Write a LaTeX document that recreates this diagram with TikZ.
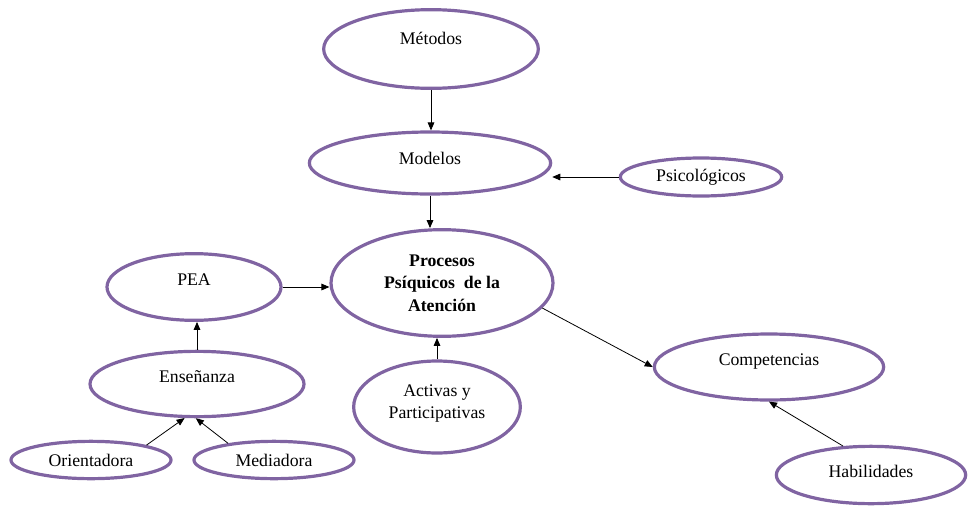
\documentclass[tikz,border=0pt]{standalone}
\usepackage{fontspec}
\setmainfont{Liberation Serif}
\usepackage{tikz}
\usetikzlibrary{shapes.geometric, arrows.meta, calc}
\definecolor{moradoborde}{RGB}{128, 100, 162}

\begin{document}
\begin{tikzpicture}[
    x=0.75pt, y=-0.75pt,
    oval/.style={ellipse, draw=moradoborde, line width=2.4pt, inner sep=0pt,
                 align=center, font=\fontsize{13.3}{16.5}\selectfont},
    lift/.style={text depth=#1},
    arrow/.style={-{Triangle[length=6pt, width=5pt]}, line width=0.6pt, black}
]
\useasboundingbox (0,0) rectangle (975,507);

\node[oval, minimum width=161pt, minimum height=59pt, lift=16.5pt] (metodos) at (431,49) {Métodos};
\node[oval, minimum width=181pt, minimum height=46.5pt, lift=7.5pt] (modelos) at (430,163) {Modelos};
\node[oval, minimum width=121pt, minimum height=28.5pt] (psico) at (701,177) {Psicológicos};
\node[oval, minimum width=166.5pt, minimum height=80pt, font=\fontsize{13.3}{17}\selectfont\bfseries] (procesos) at (442,283) {Procesos\\Psíquicos\ \ de la\\Atención};
\node[oval, minimum width=130.5pt, minimum height=50pt, lift=10.5pt] (pea) at (194,287) {PEA};
\node[oval, minimum width=160.5pt, minimum height=49pt, lift=10.5pt] (ensenanza) at (197,384) {Enseñanza};
\node[oval, minimum width=120pt, minimum height=28pt] (orient) at (91,460) {Orientadora};
\node[oval, minimum width=120pt, minimum height=28pt] (mediad) at (274,460) {Mediadora};
\node[oval, minimum width=125pt, minimum height=69pt, lift=8pt] (activas) at (437,407) {Activas y\\Participativas};
\node[oval, minimum width=172pt, minimum height=49.5pt, lift=10.5pt] (compet) at (769,367) {Competencias};
\node[oval, minimum width=142pt, minimum height=43pt, lift=6pt] (habil) at (871,475) {Habilidades};

\draw[arrow] (metodos.south) -- (metodos.south |- modelos.north);
\draw[arrow] (modelos.south) -- (modelos.south |- procesos.north);
\draw[arrow] (psico.west) -- (psico.west -| modelos.east);
\draw[arrow] (pea.east) -- (pea.east -| procesos.west);
\draw[arrow] (activas.north) -- (activas.north |- procesos.south);
\draw[arrow] (procesos.-14) -- (compet.west);
\draw[arrow] (habil.134) -- (compet.south);
\draw[arrow] (ensenanza.north) -- (ensenanza.north |- pea.south);
\draw[arrow] (orient.15) -- (ensenanza.250);
\draw[arrow] (mediad.160) -- (ensenanza.268);
\end{tikzpicture}
\end{document}
